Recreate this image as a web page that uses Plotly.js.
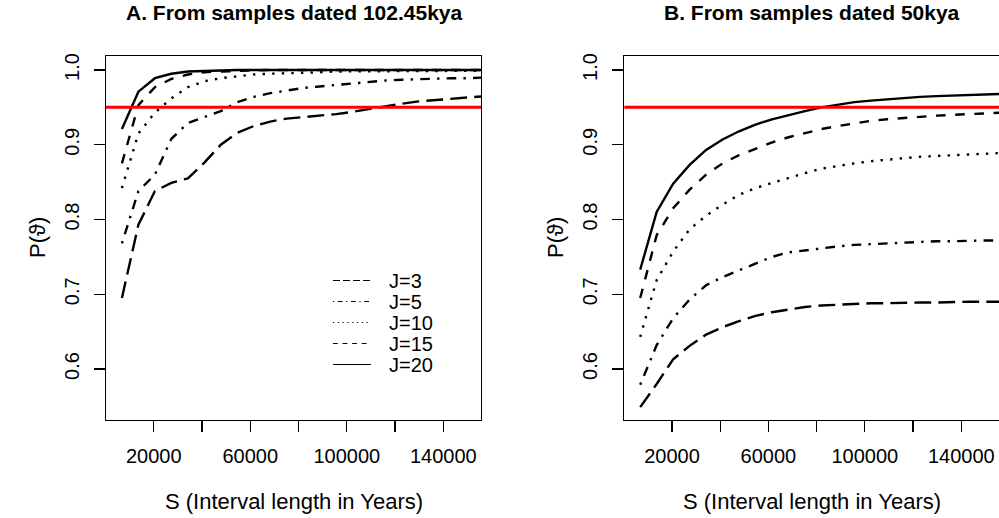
<!DOCTYPE html>
<html>
<head>
<meta charset="utf-8">
<script src="https://cdn.plot.ly/plotly-3.0.1.min.js"></script>
<style>html,body{margin:0;padding:0;background:#fff;}#chart{width:999px;height:518px;}</style>
</head>
<body>
<div id="chart"></div>
<script>
// Interval length S (years)
var intervalS = [6830, 13660, 20490, 27320, 34150, 40980, 47810, 54640, 61470, 68300, 75130, 81960,
                 88790, 95620, 102450, 109280, 116110, 122940, 129770, 136600, 143430, 150260, 157090];

// Panel A: samples dated 102.45kya
var a_J3  = [0.695, 0.793, 0.838, 0.849, 0.855, 0.876, 0.900, 0.916, 0.925, 0.931, 0.935, 0.937,
             0.939, 0.941, 0.944, 0.948, 0.952, 0.955, 0.958, 0.960, 0.962, 0.964, 0.965];
var a_J5  = [0.768, 0.838, 0.860, 0.908, 0.929, 0.937, 0.945, 0.957, 0.964, 0.969, 0.973, 0.976,
             0.978, 0.980, 0.982, 0.984, 0.986, 0.987, 0.988, 0.988, 0.989, 0.989, 0.990];
var a_J10 = [0.842, 0.915, 0.943, 0.962, 0.977, 0.985, 0.989, 0.992, 0.994, 0.995, 0.996, 0.997,
             0.997, 0.998, 0.998, 0.998, 0.999, 0.999, 0.999, 0.999, 0.999, 0.999, 0.999];
var a_J15 = [0.875, 0.953, 0.977, 0.988, 0.994, 0.997, 0.998, 0.999, 0.999, 1.000, 1.000, 1.000,
             1.000, 1.000, 1.000, 1.000, 1.000, 1.000, 1.000, 1.000, 1.000, 1.000, 1.000];
var a_J20 = [0.921, 0.971, 0.989, 0.995, 0.998, 0.999, 1.000, 1.000, 1.000, 1.000, 1.000, 1.000,
             1.000, 1.000, 1.000, 1.000, 1.000, 1.000, 1.000, 1.000, 1.000, 1.000, 1.000];

// Panel B: samples dated 50kya
var b_J3  = [0.549, 0.580, 0.613, 0.631, 0.646, 0.656, 0.664, 0.671, 0.676, 0.680, 0.683, 0.685,
             0.686, 0.687, 0.688, 0.688, 0.689, 0.689, 0.689, 0.690, 0.690, 0.690, 0.690];
var b_J5  = [0.579, 0.632, 0.668, 0.693, 0.712, 0.723, 0.732, 0.741, 0.750, 0.756, 0.759, 0.762,
             0.764, 0.766, 0.767, 0.768, 0.769, 0.770, 0.771, 0.771, 0.772, 0.772, 0.772];
var b_J10 = [0.643, 0.719, 0.757, 0.787, 0.805, 0.820, 0.833, 0.842, 0.849, 0.856, 0.862, 0.868,
             0.872, 0.875, 0.878, 0.880, 0.882, 0.884, 0.885, 0.886, 0.887, 0.888, 0.889];
var b_J15 = [0.695, 0.779, 0.815, 0.840, 0.860, 0.875, 0.886, 0.895, 0.903, 0.910, 0.916, 0.921,
             0.925, 0.929, 0.932, 0.934, 0.936, 0.938, 0.939, 0.940, 0.941, 0.942, 0.943];
var b_J20 = [0.733, 0.810, 0.848, 0.873, 0.893, 0.907, 0.918, 0.927, 0.934, 0.940, 0.945, 0.950,
             0.954, 0.957, 0.959, 0.961, 0.963, 0.964, 0.965, 0.966, 0.967, 0.968, 0.968];

var seriesNames = ["J=3", "J=5", "J=10", "J=15", "J=20"];
var threshold = 0.95;

var xTickVals = [20000, 40000, 60000, 80000, 100000, 120000, 140000];
var xTickText = ["20000", "", "60000", "", "100000", "", "140000"];
var yTickVals = [0.6, 0.7, 0.8, 0.9, 1.0];
var yTickText = ["0.6", "0.7", "0.8", "0.9", "1.0"];

var panelTitles = ["A. From samples dated 102.45kya", "B. From samples dated 50kya"];
var xTitle = "S (Interval length in Years)";
var yTitle = "P(\u03D1)";

// styles
var FONT = "Liberation Sans, Arial, Helvetica, sans-serif";
var LW = 2.4;
var dashes = ["16.8px,7.2px", "2.4px,7.2px,9.6px,7.2px", "2.4px,7.2px", "9.6px,9.6px", "solid"];
var legendDashes = ["7px,3px", "1.2px,3.6px,4.8px,3.6px", "1.2px,3.6px", "4.8px,4.8px", ""];

var aSeries = [a_J3, a_J5, a_J10, a_J15, a_J20];
var bSeries = [b_J3, b_J5, b_J10, b_J15, b_J20];

var traces = [];
aSeries.forEach(function (ys, i) {
  traces.push({
    type: "scatter", mode: "lines", x: intervalS, y: ys, name: seriesNames[i],
    xaxis: "x", yaxis: "y", showlegend: true, hoverinfo: "skip",
    line: {color: "black", width: LW, dash: dashes[i]}
  });
});
bSeries.forEach(function (ys, i) {
  traces.push({
    type: "scatter", mode: "lines", x: intervalS, y: ys, name: seriesNames[i],
    xaxis: "x2", yaxis: "y2", showlegend: false, hoverinfo: "skip",
    line: {color: "black", width: LW, dash: dashes[i]}
  });
});

var W = 999, H = 518;
function axX(dom, anchor) {
  return {
    domain: dom, anchor: anchor, range: [233, 155623], autorange: false,
    tickmode: "array", tickvals: xTickVals, ticktext: xTickText,
    ticks: "outside", ticklen: 11, tickwidth: 1.2, tickcolor: "black",
    ticklabelstandoff: 7,
    showline: true, linecolor: "black", linewidth: 1.2, mirror: true,
    showgrid: false, zeroline: false,
    tickfont: {family: FONT, size: 20, color: "black"}
  };
}
function axY(dom, anchor, mirror) {
  return {
    domain: dom, anchor: anchor, range: [0.5318, 1.0187], autorange: false,
    tickmode: "array", tickvals: yTickVals, ticktext: yTickText, tickangle: -90,
    ticks: "outside", ticklen: 11, tickwidth: 1.2, tickcolor: "black",
    ticklabelstandoff: 7,
    showline: true, linecolor: "black", linewidth: 1.2, mirror: mirror,
    showgrid: false, zeroline: false,
    tickfont: {family: FONT, size: 20, color: "black"}
  };
}

var yDom = [1 - 420 / H, 1 - 56 / H];
var xDomA = [106 / W, 481 / W];
var xDomB = [624.3 / W, 1.0];

var layout = {
  width: W, height: H,
  margin: {l: 0, r: 0, t: 0, b: 0, pad: 0},
  paper_bgcolor: "white", plot_bgcolor: "white",
  font: {family: FONT, size: 20, color: "black"},
  xaxis: axX(xDomA, "y"),
  yaxis: axY(yDom, "x", true),
  xaxis2: axX(xDomB, "y2"),
  yaxis2: axY(yDom, "x2", false),
  showlegend: true,
  legend: {
    x: 349 / W, xanchor: "left", y: 1 - 261 / H, yanchor: "top",
    bgcolor: "rgba(0,0,0,0)", borderwidth: 0,
    font: {family: FONT, size: 20, color: "black"},
    tracegroupgap: 0
  },
  shapes: [
    {type: "line", xref: "x domain", yref: "y", x0: 0, x1: 1, y0: threshold, y1: threshold,
     line: {color: "#ff0000", width: 3}},
    {type: "line", xref: "x2 domain", yref: "y2", x0: 0, x1: 1, y0: threshold, y1: threshold,
     line: {color: "#ff0000", width: 3}}
  ],
  annotations: [
    {text: "<b>" + panelTitles[0] + "</b>", xref: "paper", yref: "paper",
     x: (xDomA[0] + xDomA[1]) / 2, y: 1, xanchor: "center", yanchor: "top", borderpad: 0,
     showarrow: false, font: {family: FONT, size: 21, color: "black"}},
    {text: "<b>" + panelTitles[1] + "</b>", xref: "paper", yref: "paper",
     x: (xDomB[0] + 999.3 / W) / 2, y: 1, xanchor: "center", yanchor: "top", borderpad: 0,
     showarrow: false, font: {family: FONT, size: 21, color: "black"}},
    {text: xTitle, xref: "paper", yref: "paper", x: (xDomA[0] + xDomA[1]) / 2, y: 1 - 501 / H,
     xanchor: "center", yanchor: "middle", showarrow: false, font: {family: FONT, size: 22, color: "black"}},
    {text: xTitle, xref: "paper", yref: "paper", x: (xDomB[0] + 999.3 / W) / 2, y: 1 - 501 / H,
     xanchor: "center", yanchor: "middle", showarrow: false, font: {family: FONT, size: 22, color: "black"}},
    {text: yTitle, xref: "paper", yref: "paper", x: 38 / W, y: 1 - 238 / H, textangle: -90,
     xanchor: "center", yanchor: "middle", showarrow: false, font: {family: FONT, size: 22, color: "black"}},
    {text: yTitle, xref: "paper", yref: "paper", x: 556 / W, y: 1 - 238 / H, textangle: -90,
     xanchor: "center", yanchor: "middle", showarrow: false, font: {family: FONT, size: 22, color: "black"}}
  ]
};

Plotly.newPlot("chart", traces, layout, {staticPlot: true, displayModeBar: false}).then(function (gd) {
  // legend styled like the R legend: rows ~21px apart, thin 38px key lines
  var box = gd.querySelector(".legend .scrollbox");
  if (box) box.removeAttribute("clip-path");
  var rowGap = 21;
  var items = gd.querySelectorAll(".legend .traces");
  var first = null;
  items.forEach(function (el, i) {
    var m = /translate\(\s*([-\d.]+)[ ,]+([-\d.]+)\s*\)/.exec(el.getAttribute("transform") || "");
    if (m) {
      var tx = parseFloat(m[1]), ty = parseFloat(m[2]);
      if (first === null) first = ty;
      el.setAttribute("transform", "translate(" + tx + "," + (first + i * rowGap) + ")");
    }
    el.querySelectorAll(".legendlines path").forEach(function (p) {
      p.setAttribute("d", "M-16,0h38");
      p.style.strokeWidth = "1.2px";
      p.style.strokeDasharray = legendDashes[i] || "";
    });
  });
});
</script>
</body>
</html>
